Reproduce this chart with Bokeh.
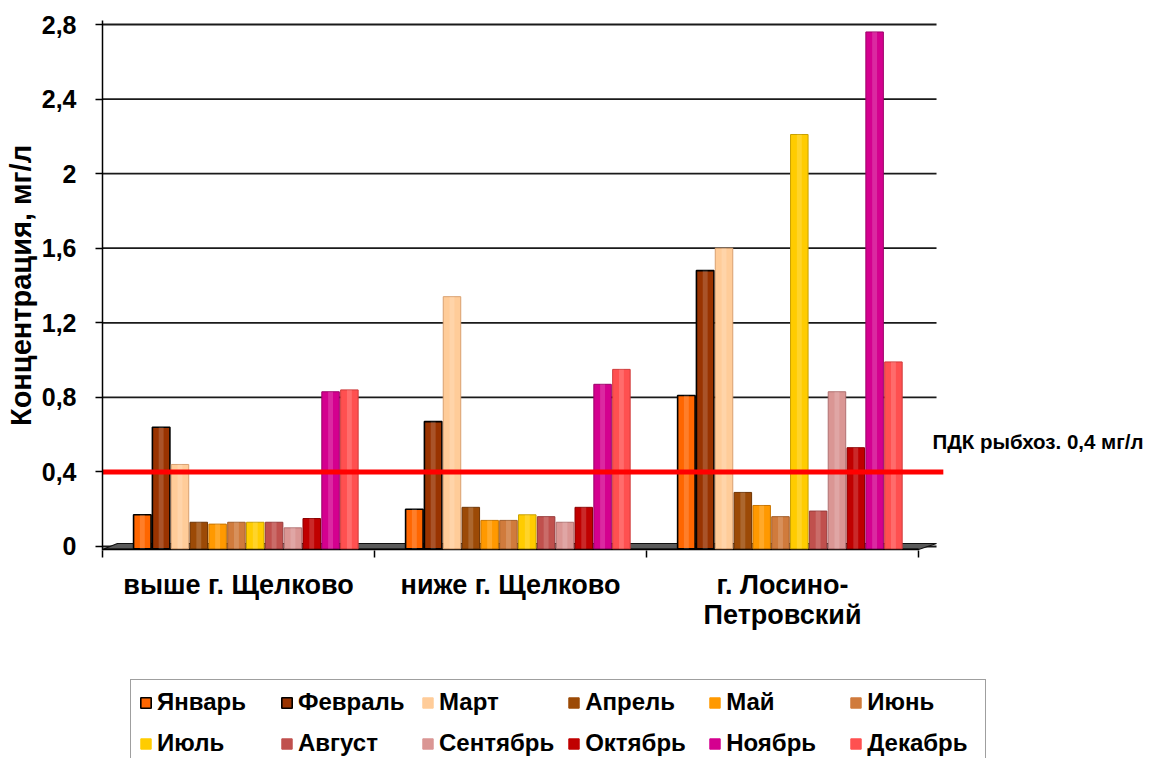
from bokeh.plotting import figure
from bokeh.layouts import column
from bokeh.models import (Range1d, FixedTicker, CustomJSTickFormatter, Legend,
                          LegendItem, Label, ColumnDataSource)
from bokeh.embed import file_html
from bokeh.resources import INLINE

# Sampling sites along the river
sites = ["выше г. Щелково", "ниже г. Щелково", "г. Лосино-\nПетровский"]

# Monthly concentrations, mg/l, one value per site
months = ["Январь", "Февраль", "Март", "Апрель", "Май", "Июнь",
          "Июль", "Август", "Сентябрь", "Октябрь", "Ноябрь", "Декабрь"]
jan = [0.17, 0.20, 0.81]
feb = [0.64, 0.67, 1.48]
mar = [0.44, 1.34, 1.60]
apr = [0.13, 0.21, 0.29]
may = [0.12, 0.14, 0.22]
jun = [0.13, 0.14, 0.16]
jul = [0.13, 0.17, 2.21]
aug = [0.13, 0.16, 0.19]
sep = [0.10, 0.13, 0.83]
oct_ = [0.15, 0.21, 0.53]
nov = [0.83, 0.87, 2.76]
dec = [0.84, 0.95, 0.99]
series = [jan, feb, mar, apr, may, jun, jul, aug, sep, oct_, nov, dec]

# Fishery maximum permissible concentration
pdk = 0.4
pdk_text = "ПДК рыбхоз. 0,4 мг/л"

y_ticks = [0, 0.4, 0.8, 1.2, 1.6, 2.0, 2.4, 2.8]

colors = ["#FF6600", "#993300", "#FFCC99", "#9C4A06", "#FF9900", "#D07B3C",
          "#FFCC00", "#C0504D", "#DA9694", "#C00000", "#D4008F", "#FF5050"]
edges = ["#000000", "#000000", "#D9A070", "#6E3404", "#C87400", "#A05C28",
         "#C8A000", "#96393A", "#B07070", "#8C0000", "#9C0068", "#D03A3A"]
edge_w = [1.6, 1.6, 1, 1, 1, 1, 1, 1, 1, 1, 1, 1]

FONT = "Liberation Sans"
X_END = 3.871          # frame reaches the right edge so the limit label fits
n_sites = len(sites)
wall = n_sites + 0.066  # right end of the back wall

p = figure(width=1155, height=668, output_backend="svg", toolbar_location=None,
           x_range=Range1d(0, X_END), y_range=Range1d(-0.0215, 2.8215),
           min_border_left=102, min_border_right=0,
           min_border_top=20, min_border_bottom=118,
           outline_line_color=None, background_fill_color="white")

# horizontal grid, limited to the back wall
p.xgrid.visible = False
p.ygrid.visible = False
p.segment(x0=0, x1=wall, y0=y_ticks, y1=y_ticks,
          line_color="#1a1a1a", line_width=1.8)

# floor of the chart
p.patch(x=[0, n_sites, wall, 0.055],
        y=[-0.016, -0.016, 0.016, 0.016],
        fill_color="#5a5a5a", line_color="#111111", line_width=1.2)
p.line(x=[0, n_sites], y=[-0.016, -0.016], line_color="#000000", line_width=2)

# legend strip under the chart (no axes; its frame is aligned with the chart's)
leg = figure(width=1155, height=90, output_backend="svg", toolbar_location=None,
             x_range=Range1d(0, 1), y_range=Range1d(0, 1),
             x_axis_location=None, y_axis_location=None,
             min_border=0, outline_line_color=None)
leg.grid.visible = False

# bars: 12 months per site
pitch = 0.0692
bw = pitch * 0.93
depth_shift = 0.027
items = []
for m, (name, vals) in enumerate(zip(months, series)):
    xs = [i + 0.5 + depth_shift + (m - 5.5) * pitch for i in range(n_sites)]
    src = ColumnDataSource(dict(x=xs, top=vals))
    p.vbar(x="x", top="top", bottom=-0.012, width=bw, source=src,
           fill_color=colors[m], line_color=edges[m], line_width=edge_w[m])
    # cylinder highlight
    p.vbar(x="x", top="top", bottom=-0.012, width=bw * 0.28, source=src,
           fill_color="white", fill_alpha=0.16, line_color=None)
    # hidden twin in the legend strip, used only for its legend swatch
    r = leg.vbar(x="x", top="top", width=bw, source=src, visible=False,
                 fill_color=colors[m],
                 line_color=edges[m] if m < 2 else colors[m],
                 line_width=edge_w[m])
    items.append(LegendItem(label=name, renderers=[r]))

# limit line
p.line(x=[0, wall + 0.025], y=[pdk, pdk], line_color="#FF0000", line_width=5)
p.add_layout(Label(x=3.051, y=pdk + 30 / 186.43, text=pdk_text,
                   text_font=FONT, text_font_style="bold", text_font_size="20.5px",
                   text_color="#000000", text_align="left", text_baseline="middle"))

# y axis
p.yaxis.ticker = FixedTicker(ticks=y_ticks)
p.yaxis.formatter = CustomJSTickFormatter(
    code="return Number(tick.toFixed(1)).toString().replace('.', ',');")
p.yaxis.axis_label = "Концентрация, мг/л"
p.yaxis.axis_label_text_font = FONT
p.yaxis.axis_label_text_font_style = "bold"
p.yaxis.axis_label_text_font_size = "29px"
p.yaxis.axis_label_text_color = "#000000"
p.yaxis.axis_label_standoff = 2
p.yaxis.major_label_text_font = FONT
p.yaxis.major_label_text_font_style = "bold"
p.yaxis.major_label_text_font_size = "25px"
p.yaxis.major_label_text_color = "#000000"
p.yaxis.major_label_standoff = 19
p.yaxis.major_tick_out = 7
p.yaxis.major_tick_in = 0
p.yaxis.minor_tick_line_color = None
p.yaxis.axis_line_color = "#000000"
p.yaxis.axis_line_width = 1.5
p.yaxis.major_tick_line_color = "#000000"
p.yaxis.major_tick_line_width = 1.5

# x axis: site names under each group, ticks at group borders
p.xaxis.ticker = FixedTicker(ticks=[i + 0.5 for i in range(n_sites)],
                             minor_ticks=list(range(n_sites + 1)))
p.xaxis.major_label_overrides = {i + 0.5: s for i, s in enumerate(sites)}
p.xaxis.major_label_text_font = FONT
p.xaxis.major_label_text_font_style = "bold"
p.xaxis.major_label_text_font_size = "27px"
p.xaxis.major_label_text_color = "#000000"
p.xaxis.major_label_text_line_height = 1.0
p.xaxis.major_label_standoff = 12
p.xaxis.major_tick_out = 0
p.xaxis.major_tick_in = 0
p.xaxis.minor_tick_out = 7
p.xaxis.minor_tick_in = 0
p.xaxis.minor_tick_line_color = "#000000"
p.xaxis.minor_tick_line_width = 1.5
p.xaxis.axis_line_color = None

legend = Legend(items=items, ncols=6, orientation="horizontal",
                location=(28, -8), margin=0,
                label_text_font=FONT, label_text_font_style="bold",
                label_text_font_size="24px", label_text_color="#000000",
                glyph_width=13, glyph_height=13, label_standoff=5,
                label_width=110, label_height=28, spacing=13, padding=8,
                border_line_color="#404040", border_line_width=1.5,
                background_fill_color="white", background_fill_alpha=1)
leg.add_layout(legend, "center")

page = column(p, leg, spacing=0)
open("out.html", "w").write(file_html(page, INLINE))
